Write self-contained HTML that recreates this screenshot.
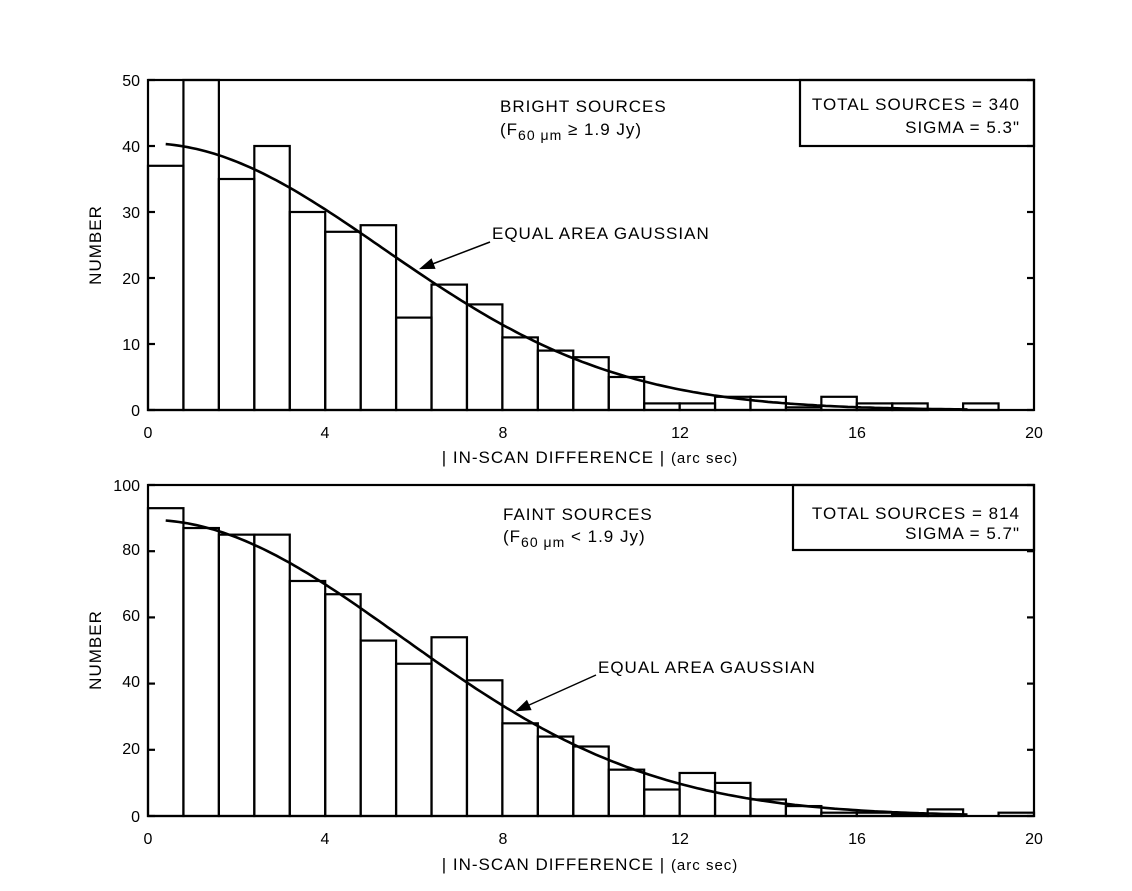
<!DOCTYPE html>
<html><head><style>body{margin:0;background:#fff}svg{display:block}text{font-family:"Liberation Sans",sans-serif;font-size:17px;letter-spacing:1px;fill:#000}text.n{font-size:16px;letter-spacing:0}</style></head>
<body>
<svg id="s" width="1132" height="891" xmlns="http://www.w3.org/2000/svg">
<g id="g" fill="none" stroke="#000" stroke-width="2.2"></g>
<g text-anchor="end">
<text class="n" x="140" y="86">50</text><text class="n" x="140" y="152">40</text><text class="n" x="140" y="218">30</text><text class="n" x="140" y="284">20</text><text class="n" x="140" y="350">10</text><text class="n" x="140" y="416">0</text>
<text class="n" x="140" y="491">100</text><text class="n" x="140" y="555">80</text><text class="n" x="140" y="621">60</text><text class="n" x="140" y="687">40</text><text class="n" x="140" y="754">20</text><text class="n" x="140" y="822">0</text>
</g>
<g text-anchor="middle">
<text class="n" x="148" y="438">0</text><text class="n" x="325" y="438">4</text><text class="n" x="503" y="438">8</text><text class="n" x="680" y="438">12</text><text class="n" x="857" y="438">16</text><text class="n" x="1034" y="438">20</text>
<text class="n" x="148" y="844">0</text><text class="n" x="325" y="844">4</text><text class="n" x="503" y="844">8</text><text class="n" x="680" y="844">12</text><text class="n" x="857" y="844">16</text><text class="n" x="1034" y="844">20</text>
<text x="590" y="463">| IN-SCAN DIFFERENCE | <tspan font-size="15">(arc sec)</tspan></text>
<text x="590" y="870">| IN-SCAN DIFFERENCE | <tspan font-size="15">(arc sec)</tspan></text>
</g>
<text transform="translate(101,245) rotate(-90)" text-anchor="middle">NUMBER</text>
<text transform="translate(101,650) rotate(-90)" text-anchor="middle">NUMBER</text>
<text x="500" y="112">BRIGHT SOURCES</text>
<text x="500" y="135">(F<tspan font-size="14" dy="5">60 μm</tspan><tspan dy="-5"> ≥ 1.9 Jy)</tspan></text>
<text x="503" y="520">FAINT SOURCES</text>
<text x="503" y="542">(F<tspan font-size="14" dy="5">60 μm</tspan><tspan dy="-5"> &lt; 1.9 Jy)</tspan></text>
<g text-anchor="end">
<text x="1020" y="110">TOTAL SOURCES = 340</text><text x="1020" y="133">SIGMA = 5.3"</text>
<text x="1020" y="519">TOTAL SOURCES = 814</text><text x="1020" y="539">SIGMA = 5.7"</text>
</g>
<text x="492" y="239">EQUAL AREA GAUSSIAN</text>
<text x="598" y="673">EQUAL AREA GAUSSIAN</text>
</svg>
<script>
var g=document.getElementById('g'),NS='http://www.w3.org/2000/svg';
function el(t,a){var e=document.createElementNS(NS,t);for(var k in a)e.setAttribute(k,a[k]);g.appendChild(e);}
function plot(top,bot,ymax,bars,A,sig,box,arrow,tick){
 var L=148,R=1034,sx=(R-L)/20,sy=(bot-top)/ymax;
 el('rect',{x:L,y:top,width:R-L,height:bot-top});
 for(var i=0;i<bars.length;i++){var h=bars[i]*sy;if(h>0)el('rect',{x:L+i*0.8*sx,y:bot-h,width:0.8*sx,height:h});}
 for(var v=0;v<=ymax;v+=tick){var y=bot-v*sy;el('line',{x1:L,y1:y,x2:L+7,y2:y});el('line',{x1:R,y1:y,x2:R-7,y2:y});}
 var d='';for(var x=0.4;x<=18.5;x+=0.1){var px=L+x*sx,py=bot-A*Math.exp(-x*x/(2*sig*sig))*sy;d+=(d?'L':'M')+px.toFixed(1)+' '+py.toFixed(1);}
 el('path',{d:d,'stroke-width':2.6});
 el('rect',{x:box[0],y:top,width:R-box[0],height:box[1]-top});
 el('line',{x1:arrow[0],y1:arrow[1],x2:arrow[2],y2:arrow[3],'stroke-width':1.5});
 var ang=Math.atan2(arrow[3]-arrow[1],arrow[2]-arrow[0]),x2=arrow[2],y2=arrow[3];
 var p=[[x2,y2],[x2-12*Math.cos(ang-0.35),y2-12*Math.sin(ang-0.35)],[x2-12*Math.cos(ang+0.35),y2-12*Math.sin(ang+0.35)]];
 el('polygon',{points:p.join(' '),fill:'#000'});
}
plot(80,410,50,[37,50,35,40,30,27,28,14,19,16,11,9,8,5,1,1,2,2,0.4,2,1,1,0,1],40.4,5.3,[800,146],[490,242,422,268],10);
plot(485,816,100,[93,87,85,85,71,67,53,46,54,41,28,24,21,14,8,13,10,5,3,1,1,0.5,2,0,1],89.5,5.7,[793,550],[596,675,518,710],20);
</script>
</body></html>
